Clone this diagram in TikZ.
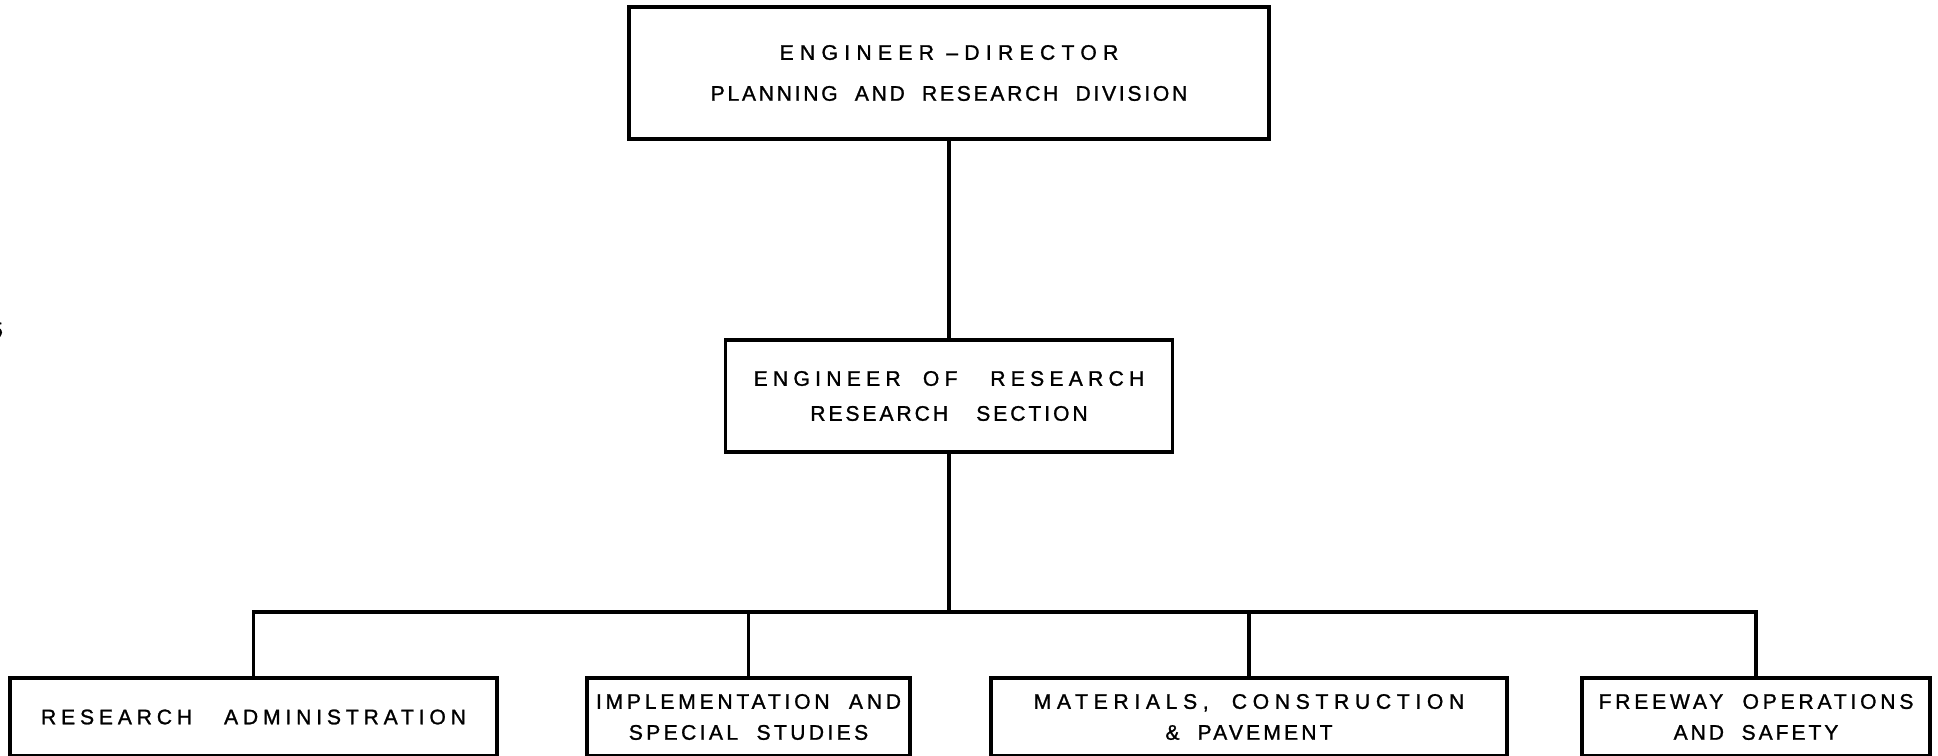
\documentclass[tikz,border=0pt]{standalone}
\usepackage{fontspec}
\newfontfamily\lettering[WordSpace=2, FakeBold=1.2]{Liberation Sans}
\newcommand\tracked[2]{{\addfontfeature{LetterSpace=#1}#2}}
\tikzset{
  unit/.style={draw, line width=2pt, align=center, inner sep=0pt},
  link/.style={line width=2pt},
}
\begin{document}
\begin{tikzpicture}[x=0.02cm, y=-0.02cm]
        \useasboundingbox (0,0) rectangle (1938,755);

        % Top of the chart
        \node[unit, minimum width=12.8cm, minimum height=2.64cm, font=\lettering\fontsize{12}{23.3}\selectfont] (director) at (949,73)
          {\tracked{30}{ENGINEER\kern7pt–DIRECTOR}\\\tracked{13}{PLANNING AND RESEARCH DIVISION}};
        \node[unit, minimum width=8.94cm, minimum height=2.24cm, font=\lettering\fontsize{12}{19.9}\selectfont] (research) at (949,396)
          {\tracked{25}{ENGINEER OF \enspace RESEARCH}\\\tracked{14}{RESEARCH \enspace SECTION}};

        % Units of the section
        \node[unit, minimum width=9.74cm, minimum height=1.56cm, font=\lettering\fontsize{12}{17.6}\selectfont] (admin) at (253.5,717)
          {\tracked{23}{RESEARCH \enspace ADMINISTRATION}};
        \node[unit, minimum width=6.46cm, minimum height=1.56cm, font=\lettering\fontsize{12}{17.6}\selectfont] (special) at (748.5,717)
          {\tracked{18}{IMPLEMENTATION AND}\\\tracked{16}{SPECIAL STUDIES}};
        \node[unit, minimum width=10.32cm, minimum height=1.56cm, font=\lettering\fontsize{12}{17.6}\selectfont] (materials) at (1249,717)
          {\tracked{27}{MATERIALS, CONSTRUCTION}\\\tracked{15}{\& PAVEMENT}};
        \node[unit, minimum width=6.96cm, minimum height=1.56cm, font=\lettering\fontsize{12}{17.6}\selectfont] (freeway) at (1756,717)
          {\tracked{18}{FREEWAY OPERATIONS}\\\tracked{14}{AND SAFETY}};

        % Page number, cut at the edge
        \node[font=\lettering\fontsize{12}{14}\selectfont] (pageno) at (-3,330) {5};

        % Lines
        \coordinate (bus) at (949,612);
        \draw[link] (director.south) -- (research.north);
        \draw[link] (research.south) -- (bus);
        \foreach \sub in {admin, special, materials, freeway}
          \draw[link] (bus) -| (\sub.north);
      \end{tikzpicture}
\end{document}
